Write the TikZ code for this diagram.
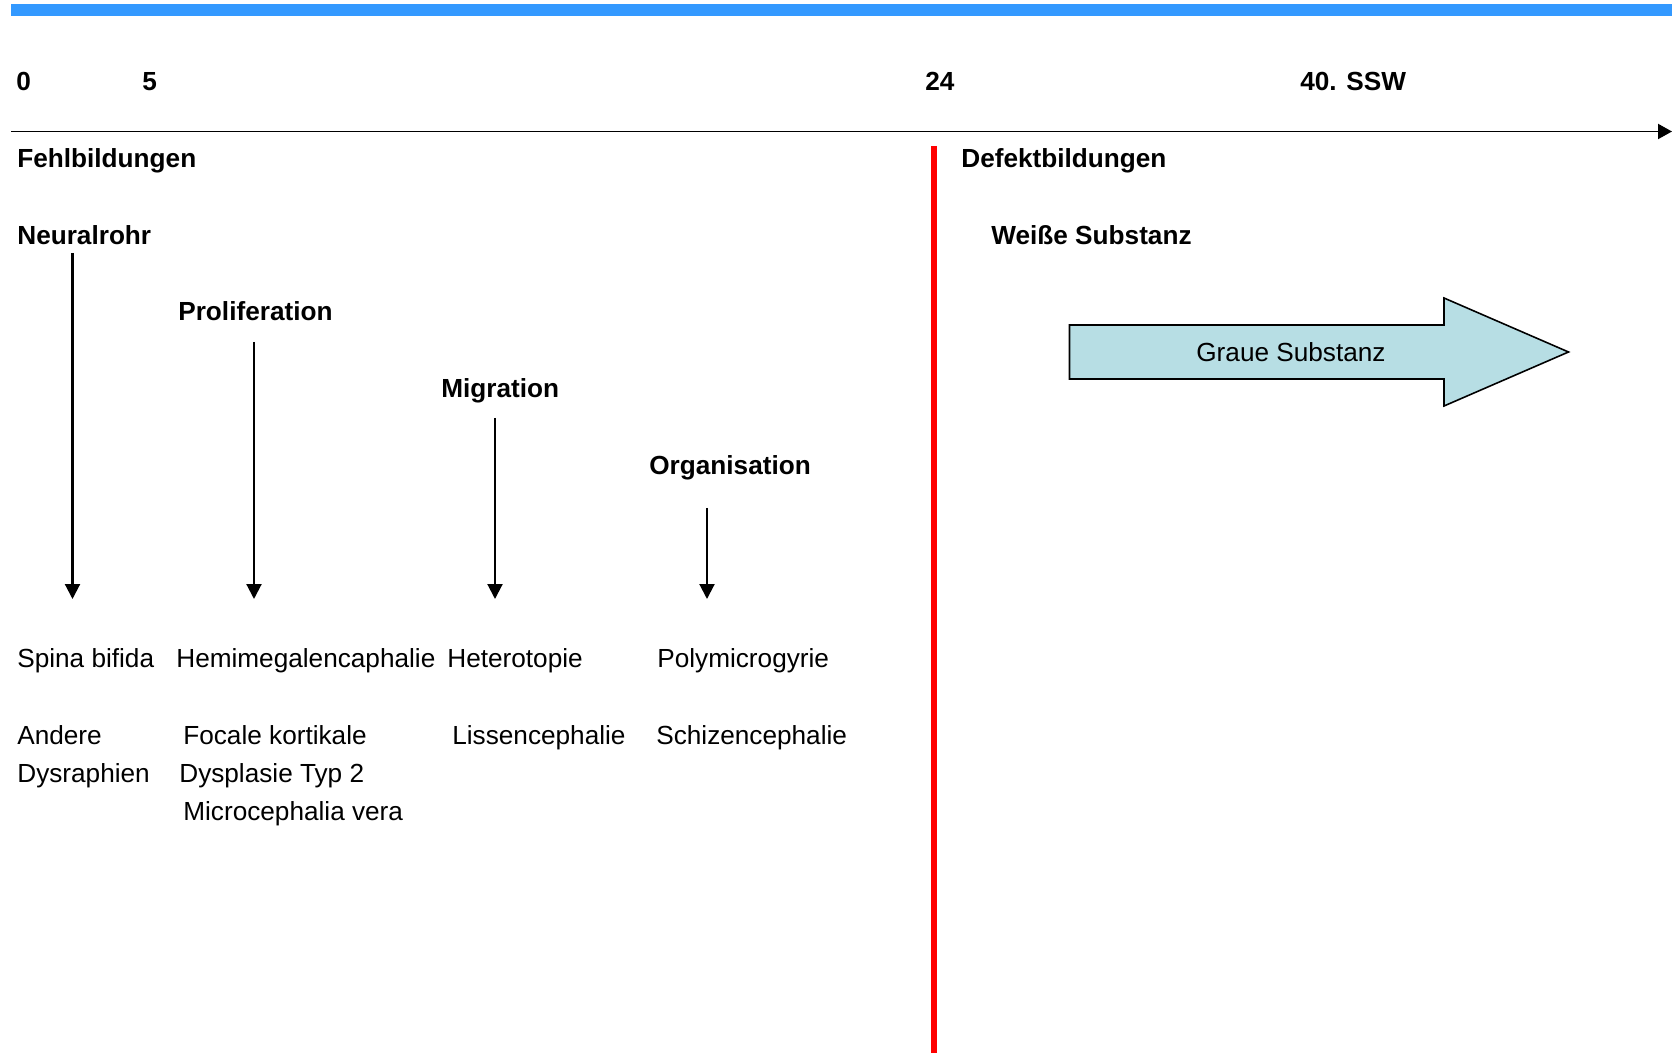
\documentclass[tikz,border=0pt]{standalone}
\usepackage{fontspec}
\setmainfont{Liberation Sans}
\usetikzlibrary{arrows.meta}
\definecolor{barblue}{RGB}{51,153,255}
\definecolor{cutred}{RGB}{255,0,0}
\definecolor{greyfill}{RGB}{183,222,228}
\tikzset{
  txt/.style={anchor=base west, inner sep=0pt, font=\fontsize{14.9pt}{18pt}\selectfont},
  hd/.style={anchor=base west, inner sep=0pt, font=\fontsize{14.9pt}{18pt}\selectfont\bfseries},
  flow/.style={-{Triangle[length=0.3cm,width=0.3cm]}, line width=1.2pt},
}

\begin{document}
\begin{tikzpicture}[x=0.02cm, y=-0.02cm]
  \useasboundingbox (0,0) rectangle (1672,1053);
  % timeline
  \fill[barblue] (11,4) rectangle (1672,16);
  \coordinate (ax0) at (11,131.5);
  \coordinate (ax1) at (1672,131.5);
  \draw[-{Triangle[length=0.28cm,width=0.3cm]}, line width=1.1pt] (ax0) -- (ax1);
  \node[hd] (wk0)  at (16,91)   {0};
  \node[hd] (wk5)  at (142,91)  {5};
  \node[hd] (wk24) at (925,91)  {24};
  \node[hd] (wk40) at (1300,91) {40. SSW};
  % border
  \draw[cutred, line width=0.12cm] (934,146) -- (934,1053);
  \node[hd] (fehl)  at (17,168)  {Fehlbildungen};
  \node[hd] (defekt) at (961,168) {Defektbildungen};
  \node[hd] (weiss) at (991,245)  {Weiße Substanz};
  % phases
  \node[hd] (neural) at (17,245)  {Neuralrohr};
  \node[hd] (prolif) at (178,321) {Proliferation};
  \node[hd] (migr)   at (441,398) {Migration};
  \node[hd] (organ)  at (649,475) {Organisation};
  \coordinate (neural-a) at (72.5,253);  \coordinate (neural-b) at (72.5,599);
  \coordinate (prolif-a) at (254,342);   \coordinate (prolif-b) at (254,599);
  \coordinate (migr-a)   at (495,418);   \coordinate (migr-b)   at (495,599);
  \coordinate (organ-a)  at (707,508);   \coordinate (organ-b)  at (707,599);
  \draw[flow] (neural-a) -- (neural-b);
  \draw[flow] (prolif-a) -- (prolif-b);
  \draw[flow] (migr-a) -- (migr-b);
  \draw[flow] (organ-a) -- (organ-b);
  % disorders
  \node[txt] (spina)  at (17,667)  {Spina bifida};
  \node[txt] (hemi)   at (176,667) {Hemimegalencaphalie};
  \node[txt] (hetero) at (447,667) {Heterotopie};
  \node[txt] (poly)   at (657,667) {Polymicrogyrie};
  \node[txt] (andere) at (17,744)  {Andere};
  \node[txt] (focale) at (183,744) {Focale kortikale};
  \node[txt] (liss)   at (452,744) {Lissencephalie};
  \node[txt] (schiz)  at (656,744) {Schizencephalie};
  \node[txt] (dysr)   at (17,782)  {Dysraphien};
  \node[txt] (dyspl)  at (179,782) {Dysplasie Typ 2};
  \node[txt] (micro)  at (183,820) {Microcephalia vera};
  % grey matter arrow
  \draw[fill=greyfill, line width=0.9pt] (1069.5,325) -- (1444,325) -- (1444,298)
    -- (1568.5,352) -- (1444,406) -- (1444,379) -- (1069.5,379) -- cycle;
  \node[txt] (graue) at (1196,362) {Graue Substanz};
\end{tikzpicture}
\end{document}
